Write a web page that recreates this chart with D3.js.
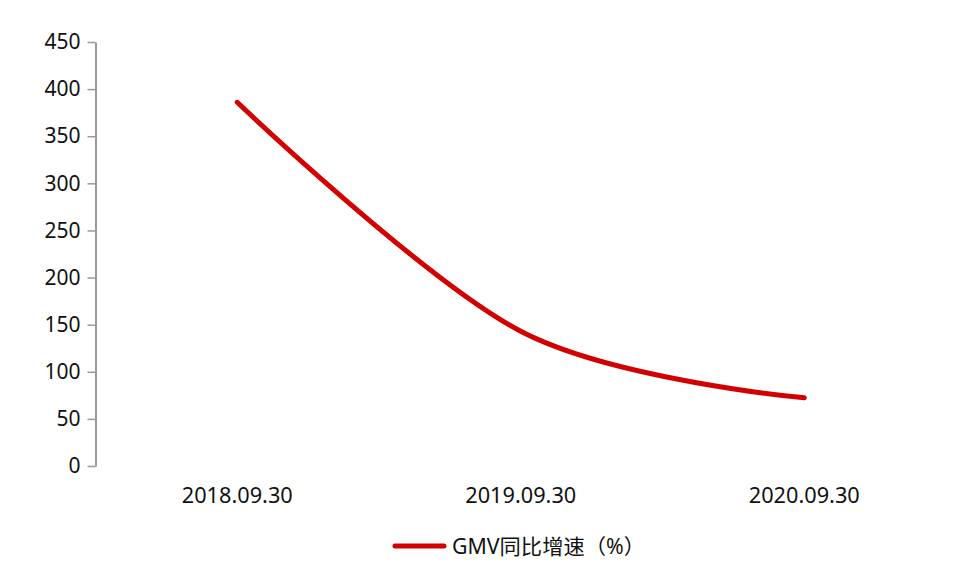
<!DOCTYPE html>
<meta charset="utf-8">
<body style="margin:0;background:#fff">
<svg width="980" height="586"></svg>
<script src="https://cdn.jsdelivr.net/npm/d3@7/dist/d3.min.js"></script>
<script>
  var dates = ['2018.09.30', '2019.09.30', '2020.09.30']
  var growth = [386, 143, 72.5]
  var yTicks = [0, 50, 100, 150, 200, 250, 300, 350, 400, 450]
  var seriesName = 'GMV同比增速（%）'

  var svg = d3.select('svg')
  var font = '"Noto Sans", "Noto Sans CJK SC", sans-serif'

  var x = d3.scaleBand().domain(dates).range([95.5, 946])
  var y = d3.scaleLinear().domain([0, 450]).range([466, 42])

  // y axis
  var yAxis = svg.append('g').attr('transform', 'translate(95.5,0)')
    .call(d3.axisLeft(y).tickValues(yTicks).tickSize(8).tickPadding(7).tickSizeOuter(0))
  yAxis.select('.domain').attr('stroke', '#999').attr('stroke-width', 2)
  yAxis.selectAll('.tick line').attr('stroke', '#999').attr('stroke-width', 1.5)
  yAxis.selectAll('.tick text')
    .attr('font-family', font).attr('font-size', 21).attr('fill', '#111')

  // x labels (no axis line in the original)
  svg.append('g').selectAll('text')
    .data(dates)
    .enter().append('text')
    .attr('x', function(d) { return x(d) + x.bandwidth() / 2 })
    .attr('y', 503)
    .attr('text-anchor', 'middle')
    .attr('font-family', font)
    .attr('font-size', 22)
    .attr('fill', '#111')
    .attr('textLength', 111)
    .attr('lengthAdjust', 'spacingAndGlyphs')
    .text(function(d) { return d })

  // smoothed line
  var line = d3.line()
    .x(function(d, i) { return x(dates[i]) + x.bandwidth() / 2 })
    .y(function(d) { return y(d) })
    .curve(d3.curveCardinal.tension(0))

  svg.append('path')
    .datum(growth)
    .attr('d', line)
    .attr('fill', 'none')
    .attr('stroke', '#d20000')
    .attr('stroke-width', 5)
    .attr('stroke-linecap', 'round')

  // legend
  var legend = svg.append('g')
  legend.append('line')
    .attr('x1', 395).attr('x2', 444).attr('y1', 546).attr('y2', 546)
    .attr('stroke', '#d20000').attr('stroke-width', 5).attr('stroke-linecap', 'round')
  legend.append('text')
    .attr('x', 452).attr('y', 554)
    .attr('font-family', font)
    .attr('font-size', 21)
    .attr('fill', '#111')
    .attr('textLength', 193)
    .attr('lengthAdjust', 'spacingAndGlyphs')
    .text(seriesName)
</script>
